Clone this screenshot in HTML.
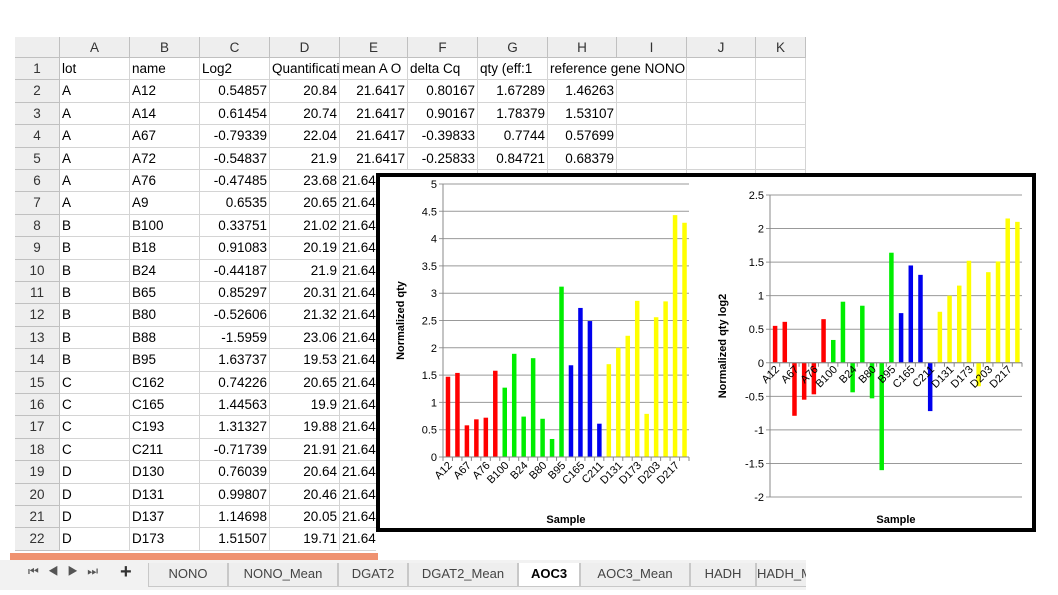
<!DOCTYPE html>
<html><head><meta charset="utf-8"><style>
body{margin:0;width:1058px;height:595px;overflow:hidden;background:#fff;font-family:"Liberation Sans",sans-serif;position:relative}
#grid{position:absolute;left:0;top:0}
.c{position:absolute;box-sizing:border-box;border-right:1px solid #d4d4d4;border-bottom:1px solid #d4d4d4;font-size:13.5px;line-height:22px;white-space:nowrap;overflow:hidden;padding:0 2px;color:#000}
.h{background:#eeeeee;color:#333;text-align:center;border-color:#c0c0c0}
.r{text-align:right}
#box{position:absolute;left:376px;top:173px;width:660px;height:359px;box-sizing:border-box;border:4px solid #000;background:#fff}
#tabs{position:absolute;left:0;top:560px;width:806px;height:30px;background:#f2f2f2;overflow:hidden}
.tab{position:absolute;top:3px;height:24px;box-sizing:border-box;border:1px solid #c8c8c8;border-top:none;background:#eeeeee;font-size:13px;line-height:22px;text-align:center;color:#444;white-space:nowrap;overflow:hidden}
</style></head><body>
<div id="grid"></div>
<div style="position:absolute;left:376px;top:531px;width:440px;height:22px;background:#fff"></div>
<div style="position:absolute;left:10px;top:553px;width:368px;height:7px;background:#ef9270"></div>
<div id="tabs">
<div style="position:absolute;left:28px;top:4px;font-size:12px;color:#555;letter-spacing:9px">⏮◀▶⏭</div>
<div style="position:absolute;left:120px;top:1px;font-size:20px;font-weight:bold;color:#333">+</div>
</div>
<div id="box">
<svg id="svg" width="652" height="351" style="position:absolute;left:0;top:0"></svg>
</div>
<script>
const categories=["A12","A14","A67","A72","A76","A9","B100","B18","B24","B65","B80","B88","B95","C162","C165","C193","C211","D130","D131","D137","D173","D198","D203","D209","D217","D222"];
const lots=["A","A","A","A","A","A","B","B","B","B","B","B","B","C","C","C","C","D","D","D","D","D","D","D","D","D"];
const qtyValues=[1.47,1.54,0.58,0.69,0.72,1.58,1.27,1.89,0.74,1.81,0.70,0.33,3.12,1.68,2.73,2.49,0.61,1.70,2.00,2.22,2.86,0.79,2.56,2.85,4.43,4.29];
const log2Values=[0.55,0.61,-0.79,-0.55,-0.47,0.65,0.34,0.91,-0.44,0.85,-0.53,-1.60,1.64,0.74,1.45,1.31,-0.72,0.76,1.00,1.15,1.52,-0.35,1.35,1.51,2.15,2.10];
const qtyTicks=[0,0.5,1,1.5,2,2.5,3,3.5,4,4.5,5];
const log2Ticks=[-2,-1.5,-1,-0.5,0,0.5,1,1.5,2,2.5];
const lotColors={A:"#ff0000",B:"#00ee00",C:"#0000ee",D:"#ffff00"};

const sheetCols=["A","B","C","D","E","F","G","H","I","J","K"];
const header=["lot","name","Log2","Quantificati","mean A O","delta Cq","qty (eff:1","reference gene NONO"];
const colD=[20.84,20.74,22.04,21.9,23.68,20.65,21.02,20.19,21.9,20.31,21.32,23.06,19.53,20.65,19.9,19.88,21.91,20.64,20.46,20.05,19.71];
const colC=["0.54857","0.61454","-0.79339","-0.54837","-0.47485","0.6535","0.33751","0.91083","-0.44187","0.85297","-0.52606","-1.5959","1.63737","0.74226","1.44563","1.31327","-0.71739","0.76039","0.99807","1.14698","1.51507"];
const colF=["0.80167","0.90167","-0.39833","-0.25833"];
const colG=["1.67289","1.78379","0.7744","0.84721"];
const colH=["1.46263","1.53107","0.57699","0.68379"];
const rowNames=["A12","A14","A67","A72","A76","A9","B100","B18","B24","B65","B80","B88","B95","C162","C165","C193","C211","D130","D131","D137","D173"];
const rowLots=["A","A","A","A","A","A","B","B","B","B","B","B","B","C","C","C","C","D","D","D","D"];
const sheetTabs=["NONO","NONO_Mean","DGAT2","DGAT2_Mean","AOC3","AOC3_Mean","HADH","HADH_Mean"];

const colX=[60,130,200,270,340,408,478,548,617,687,756,806];
const grid=document.getElementById('grid');
function cell(x,y,w,h,txt,cls){const d=document.createElement('div');d.className='c '+(cls||'');d.style.left=x+'px';d.style.top=y+'px';d.style.width=w+'px';d.style.height=h+'px';d.textContent=txt;grid.appendChild(d);return d;}
const top0=37,hh=21,rh=22.4;
let d=cell(15,top0,45,hh,'','h');


sheetCols.forEach((c,i)=>{const e=cell(colX[i],top0,colX[i+1]-colX[i],hh,c,'h');

});
for(let r=0;r<22;r++){
 const y=top0+hh+r*rh;
 const rhd=cell(15,y,45,rh,String(r+1),'h');
 
 
 for(let i=0;i<11;i++){
  let t='',cls='';
  if(r===0){t=header[i]||'';}
  else{const k=r-1;
   if(i===0)t=rowLots[k];else if(i===1)t=rowNames[k];
   else if(i===2){t=colC[k];cls='r';}
   else if(i===3){t=String(colD[k]);cls='r';}
   else if(i===4){t='21.6417';cls='r';}
   else if(i===5&&k<4){t=colF[k];cls='r';}
   else if(i===6&&k<4){t=colG[k];cls='r';}
   else if(i===7&&k<4){t=colH[k];cls='r';}
  }
  let w=colX[i+1]-colX[i]+(r===0&&i===7?140:0);
  if(i===4&&r>=5){w=36;cls='';}
  const e=cell(colX[i],y,w,rh,t,cls);
  if(i===4&&r>=5)e.style.borderRight='none';
  if(r===0&&i===7){e.style.borderRight='none';e.style.zIndex=1;e.style.background='transparent';}
  
  
 }
}
const tabs=document.getElementById('tabs');
const tabW=[80,110,70,110,62,110,66,70];let tx=148;
sheetTabs.forEach((s,i)=>{const t=document.createElement('div');t.className='tab';t.style.left=tx+'px';t.style.width=tabW[i]+'px';t.textContent=s;
if(s==='AOC3'){t.style.background='#fff';t.style.fontWeight='bold';t.style.color='#000';}


tabs.appendChild(t);tx+=tabW[i];});

const svg=document.getElementById('svg');const NS='http://www.w3.org/2000/svg';
const OX=380,OY=177;
function el(tag,a,txt){const e=document.createElementNS(NS,tag);for(const k in a)e.setAttribute(k,a[k]);if(txt!==undefined)e.textContent=txt;svg.appendChild(e);return e;}
function chart(name,vals,ticks,x0,x1,yTop,yBot,vmin,vmax,ytitle,titleX,labelY){
 const ys=v=>yBot-(v-vmin)/(vmax-vmin)*(yBot-yTop);
 const slot=(x1-x0)/vals.length;
 const xs=i=>x0+slot*(i+0.5);
 ticks.forEach(t=>{const y=ys(t)-OY;
  const g=el('line',{x1:x0-OX-4,x2:x1-OX,y1:y,y2:y,stroke:'#999','stroke-width':1});
  
  
  const tl=el('text',{x:x0-OX-6,y:y+4,'text-anchor':'end','font-size':'11','fill':'#000'},String(t));
  
  });
 const ax=el('line',{x1:x0-OX,x2:x0-OX,y1:ys(vmax)-OY,y2:ys(vmin)-OY,stroke:'#888'});
 
 
 const z=ys(0)-OY;
 vals.forEach((v,i)=>{const b=el('rect',{x:xs(i)-OX-2,y:Math.min(ys(v),ys(0))-OY,width:4.5,height:Math.abs(ys(v)-ys(0)),fill:lotColors[lots[i]]});
  
  });
 for(let i=0;i<=vals.length;i++){const x=x0+slot*i-OX;el('line',{x1:x,x2:x,y1:z,y2:z+4,stroke:'#888'});}
 const xa=el('line',{x1:x0-OX,x2:x1-OX,y1:z,y2:z,stroke:'#888'});
 
 
 categories.forEach((c,i)=>{if(i%2)return;const x=xs(i)-OX+5,y=labelY-OY;
  const t=el('text',{x:x,y:y,'text-anchor':'end','font-size':'11',transform:`rotate(-45 ${x} ${y})`},c);
  
  });
 const yt=el('text',{x:0,y:0,'text-anchor':'middle','font-size':'11','font-weight':'bold',transform:`translate(${titleX-OX},${(yTop+yBot)/2-OY}) rotate(-90)`},ytitle);
 
 
 const xt=el('text',{x:(x0+x1)/2-OX,y:523-OY,'text-anchor':'middle','font-size':'11','font-weight':'bold'},'Sample');
 
 
}
chart('qty-chart',qtyValues,qtyTicks,443,689,184,457,0,5,'Normalized qty',404,466);
chart('log2-chart',log2Values,log2Ticks,770,1022,195,497,-2,2.5,'Normalized qty log2',726,370);
</script>
</body></html>
